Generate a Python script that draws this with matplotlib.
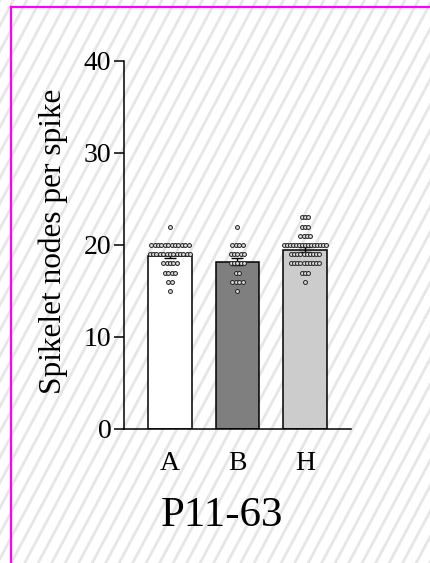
import numpy as np
import matplotlib
matplotlib.use("Agg")
import matplotlib.pyplot as plt
from matplotlib.lines import Line2D

plt.rcParams['font.family'] = ['Liberation Serif', 'DejaVu Serif']

groups = ['A', 'B', 'H']
bar_colors = ['#ffffff', '#7f7f7f', '#cccccc']
# spikelet node counts per spike: value -> number of spikes
counts = {
    'A': {22: 1, 20: 12, 19: 13, 18: 5, 17: 4, 16: 2, 15: 1},
    'B': {22: 1, 20: 4, 19: 5, 18: 5, 17: 2, 16: 4, 15: 1},
    'H': {23: 3, 22: 3, 21: 4, 20: 15, 19: 10, 18: 10, 17: 3, 16: 1},
}
title = 'P11-63'
ylabel = 'Spikelet nodes per spike'

W, H = 431, 563
fig = plt.figure(figsize=(W / 100, H / 100), dpi=100)
fig.patch.set_facecolor('white')

# diagonal striped background
ang = np.deg2rad(62)
period = 13.5
dx = H / np.tan(ang)
for x0 in np.arange(-dx - period, W + period, period):
    fig.add_artist(Line2D([x0 / W, (x0 + dx) / W], [0, 1], color='#e6e6e6',
                          lw=2.0, transform=fig.transFigure, zorder=0))
# magenta frame edges
fig.add_artist(Line2D([11 / W, 11 / W], [0, 1 - 7 / H], color='#ff00ff', lw=1.6,
                      transform=fig.transFigure, zorder=1))
fig.add_artist(Line2D([11 / W, 1], [1 - 7 / H, 1 - 7 / H], color='#ff00ff', lw=1.6,
                      transform=fig.transFigure, zorder=1))

ax = fig.add_axes([124 / W, 1 - 429 / H, (351 - 124) / W, (429 - 61) / H])
ax.patch.set_alpha(0)

for i, g in enumerate(groups):
    vals = np.concatenate([[v] * n for v, n in counts[g].items()])
    mean = vals.mean()
    sem = vals.std(ddof=1) / np.sqrt(len(vals))
    ax.bar(i, mean, width=0.64, color=bar_colors[i], edgecolor='black',
           linewidth=1.1, zorder=2)
    ax.errorbar(i, mean, yerr=sem, color='black', capsize=4, lw=1.0,
                capthick=1.0, zorder=4)
    step = 0.05 if g != 'H' else 0.045
    for v, n in counts[g].items():
        xs = i + (np.arange(n) - (n - 1) / 2) * step
        ax.scatter(xs, [v] * n, s=8, facecolor='#d8d8d8', edgecolor='#222222',
                   linewidth=0.7, zorder=5)

ax.set_xlim(-0.68, 2.68)
ax.set_ylim(0, 40)
ax.set_yticks([0, 10, 20, 30, 40])
ax.set_xticks(range(3))
ax.set_xticklabels(groups)
ax.tick_params(axis='x', length=0, labelsize=20, pad=16)
ax.tick_params(axis='y', length=7, width=1.1, labelsize=20, pad=2)
for s in ['top', 'right']:
    ax.spines[s].set_visible(False)
for s in ['left', 'bottom']:
    ax.spines[s].set_linewidth(1.1)

fig.text(53 / W, 1 - 241 / H, ylabel, rotation=90, ha='center', va='center',
         fontsize=22.5)
fig.text(222 / W, 1 - 516 / H, title, ha='center', va='center', fontsize=31)

fig.savefig('out.png', dpi=100)
